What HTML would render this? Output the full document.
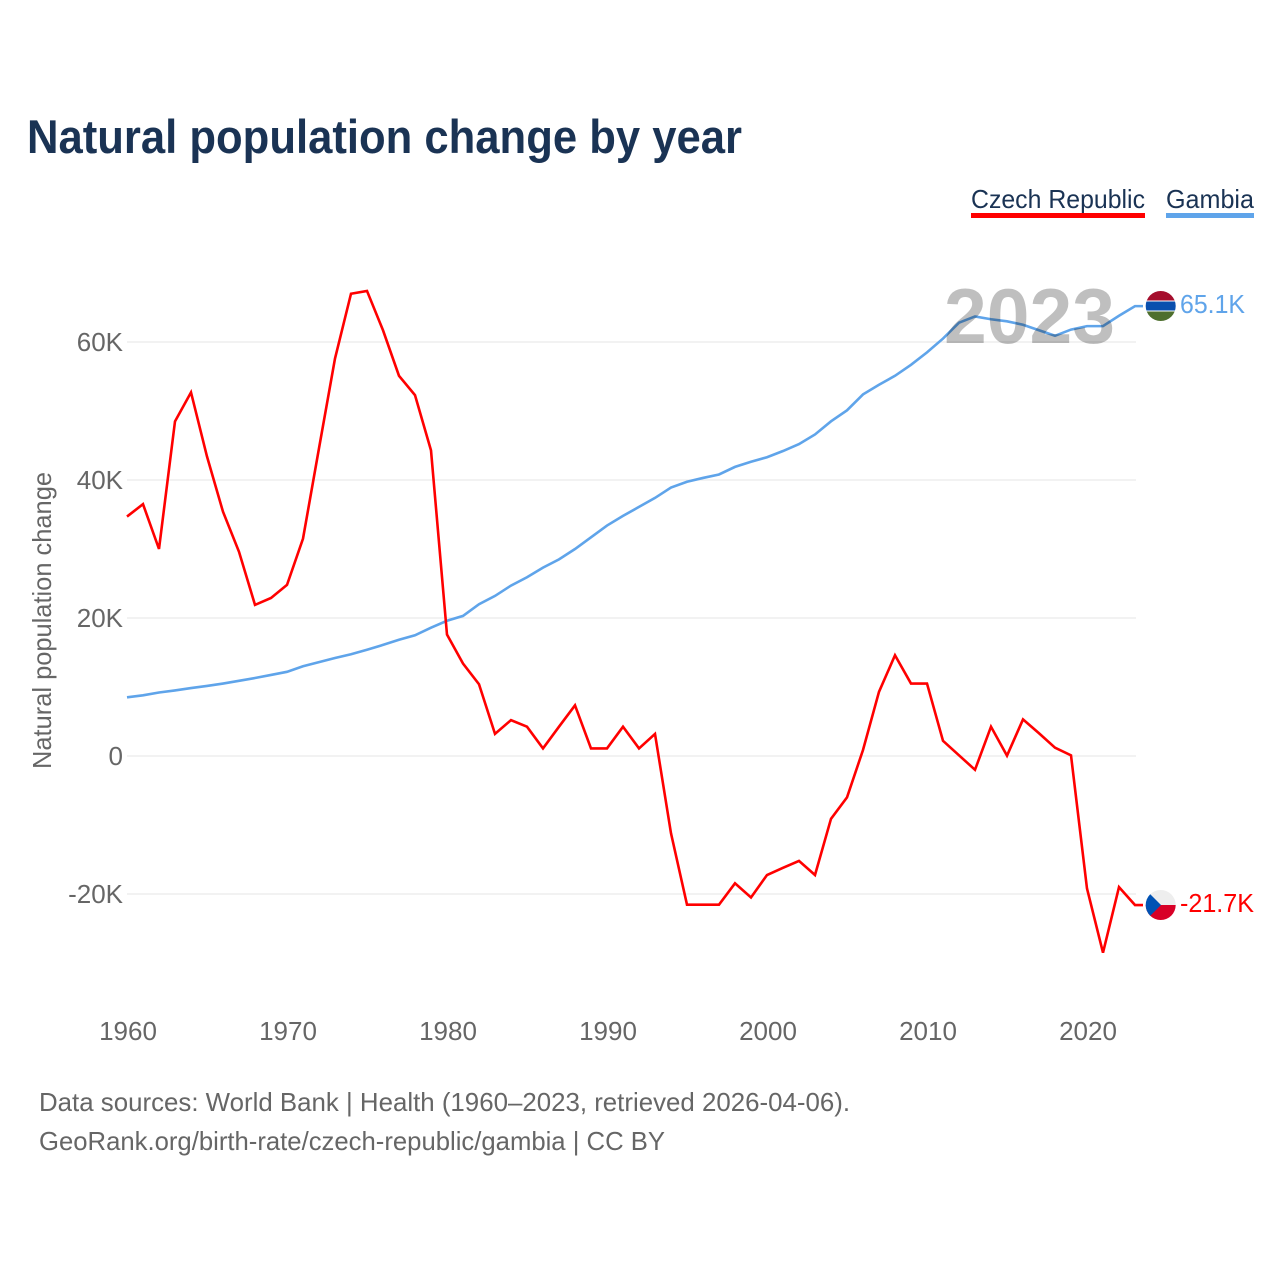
<!DOCTYPE html>
<html lang="en">
<head>
<meta charset="utf-8">
<title>Natural population change by year</title>
<style>
  html, body { margin: 0; padding: 0; background: #fff; }
  svg { display: block; }
  text { font-family: "Liberation Sans", sans-serif; }
</style>
</head>
<body>
<svg id="chart" xmlns="http://www.w3.org/2000/svg" width="1280" height="1280" viewBox="0 0 1280 1280">
  <rect x="0" y="0" width="1280" height="1280" fill="#ffffff"/>
  <text x="27" y="153" font-size="47" font-weight="700" fill="#1a3354" textLength="715" lengthAdjust="spacingAndGlyphs">Natural population change by year</text>

  <g>
    <text x="971" y="208" font-size="26" fill="#1a3354" textLength="174" lengthAdjust="spacingAndGlyphs">Czech Republic</text>
    <rect x="971" y="213" width="174" height="5" fill="#ff0000"/>
  </g>
  <g>
    <text x="1166" y="208" font-size="26" fill="#1a3354" textLength="88" lengthAdjust="spacingAndGlyphs">Gambia</text>
    <rect x="1166" y="213" width="88" height="5" fill="#5fa4ea"/>
  </g>

  <g id="grid"></g>
  <g id="y-ticks"></g>
  <g id="x-ticks"></g>
  <text transform="translate(51 769) rotate(-90)" x="0" y="0" font-size="26" fill="#666666" textLength="297" lengthAdjust="spacingAndGlyphs">Natural population change</text>

  <g id="series"></g>

  <text x="944" y="343" font-size="78" font-weight="700" fill="#000000" fill-opacity="0.25" textLength="171" lengthAdjust="spacingAndGlyphs">2023</text>

  <defs>
    <clipPath id="clip-gambia"><circle cx="1160.7" cy="306" r="15"/></clipPath>
    <clipPath id="clip-czech"><circle cx="1160.7" cy="905" r="15"/></clipPath>
  </defs>
  <g id="flag-gambia" clip-path="url(#clip-gambia)">
    <rect x="1145" y="291" width="32" height="30" fill="#ffffff"/>
    <rect x="1145" y="291" width="32" height="9.5" fill="#a50e2d"/>
    <rect x="1145" y="301.5" width="32" height="9" fill="#0a4fae"/>
    <rect x="1145" y="311.5" width="32" height="9.5" fill="#4e6f2e"/>
  </g>
  <g id="flag-czech" clip-path="url(#clip-czech)">
    <rect x="1145" y="890" width="32" height="15" fill="#eeeeee"/>
    <rect x="1145" y="905" width="32" height="15" fill="#d80027"/>
    <polygon points="1145,889 1161,905 1145,921" fill="#0052b4"/>
  </g>

  <text x="1180" y="313" font-size="26" fill="#5fa4ea" textLength="65" lengthAdjust="spacingAndGlyphs">65.1K</text>
  <text x="1180" y="912" font-size="26" fill="#ff0000" textLength="74" lengthAdjust="spacingAndGlyphs">-21.7K</text>

  <text x="39" y="1111" font-size="26" fill="#666666" textLength="811" lengthAdjust="spacingAndGlyphs">Data sources: World Bank | Health (1960–2023, retrieved 2026-04-06).</text>
  <text x="39" y="1150" font-size="26" fill="#666666" textLength="626" lengthAdjust="spacingAndGlyphs">GeoRank.org/birth-rate/czech-republic/gambia | CC BY</text>
</svg>
<script>
const firstYear = 1960;
const xTickYears = [1960, 1970, 1980, 1990, 2000, 2010, 2020];
const yTickValues = [60, 40, 20, 0, -20];
const yTickLabels = ["60K", "40K", "20K", "0", "-20K"];
const czechRepublic = [
  34.7, 36.5, 30.0, 48.5, 52.7, 43.4, 35.4, 29.6, 21.9, 22.9,
  24.8, 31.5, 44.6, 57.6, 67.0, 67.4, 61.7, 55.1, 52.3, 44.3,
  17.6, 13.4, 10.4, 3.2, 5.2, 4.25, 1.1, 4.25, 7.35, 1.1,
  1.1, 4.25, 1.1, 3.2, -11.2, -21.55, -21.55, -21.55, -18.45, -20.5,
  -17.25, -16.2, -15.2, -17.25, -9.1, -6.0, 0.87, 9.3, 14.6, 10.5,
  10.5, 2.2, 0.1, -2.0, 4.25, 0.05, 5.3, 3.3, 1.2, 0.1,
  -19.2, -28.5, -19.0, -21.6
];
const gambia = [
  8.5, 8.8, 9.2, 9.5, 9.85, 10.15, 10.5, 10.9, 11.3, 11.75,
  12.2, 13.0, 13.6, 14.2, 14.75, 15.4, 16.1, 16.85, 17.5, 18.6,
  19.6, 20.3, 22.0, 23.2, 24.7, 25.9, 27.3, 28.5, 30.0, 31.7,
  33.4, 34.8, 36.1, 37.4, 38.9, 39.75, 40.3, 40.8, 41.9, 42.65,
  43.3, 44.2, 45.2, 46.6, 48.5, 50.1, 52.4, 53.8, 55.1, 56.7,
  58.5, 60.5, 62.8, 63.7, 63.3, 63.0, 62.5, 61.7, 60.9, 61.8,
  62.3, 62.3, 63.8, 65.2
];

const SVG_NS = "http://www.w3.org/2000/svg";
function xScale(year) { return 127 + (year - firstYear) * 16; }
function yScale(value) { return 756 - value * 6.9; }
function make(tag, attrs, parent) {
  const node = document.createElementNS(SVG_NS, tag);
  for (const key in attrs) node.setAttribute(key, attrs[key]);
  parent.appendChild(node);
  return node;
}

const gridGroup = document.getElementById("grid");
const yGroup = document.getElementById("y-ticks");
const xGroup = document.getElementById("x-ticks");
const seriesGroup = document.getElementById("series");

yTickValues.forEach(function (value, i) {
  const y = yScale(value);
  const line = make("line", { x1: 127, x2: 1136, y1: y, y2: y, stroke: "#e9e9e9", "stroke-width": 1.2 }, gridGroup);
  
  
  const label = make("text", { x: 123, y: y + 9, "text-anchor": "end", "font-size": 26, fill: "#666666" }, yGroup);
  label.textContent = yTickLabels[i];
  
  
});

xTickYears.forEach(function (year) {
  const label = make("text", { x: xScale(year) + 1, y: 1040, "text-anchor": "middle", "font-size": 26, fill: "#666666" }, xGroup);
  label.textContent = String(year);
  
  
});

function seriesPoints(values) {
  return values.map(function (value, i) {
    return xScale(firstYear + i) + "," + yScale(value);
  }).join(" ");
}

function connectorEnd(values) {
  const lastY = yScale(values[values.length - 1]);
  return xScale(firstYear + values.length - 1) + "," + lastY + " 1143," + lastY;
}

const gambiaLine = make("polyline", { points: seriesPoints(gambia) + " " + connectorEnd(gambia), fill: "none", stroke: "#5fa4ea", "stroke-width": 2.6, "stroke-linejoin": "miter" }, seriesGroup);



const czechLine = make("polyline", { points: seriesPoints(czechRepublic) + " " + connectorEnd(czechRepublic), fill: "none", stroke: "#ff0000", "stroke-width": 2.6, "stroke-linejoin": "miter" }, seriesGroup);


</script>
</body>
</html>
